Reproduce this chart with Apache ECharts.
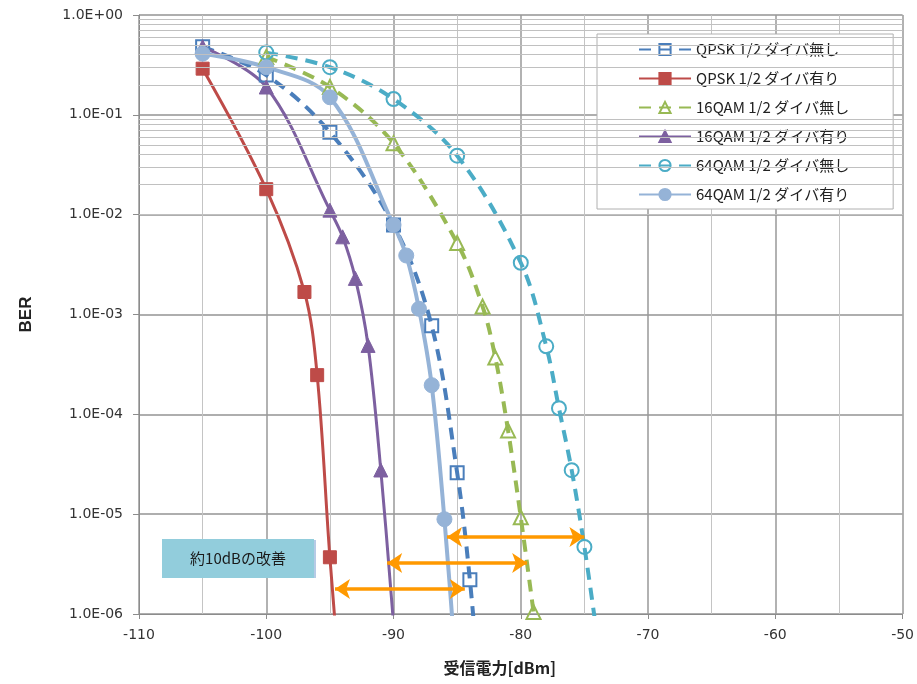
<!DOCTYPE html>
<html>
<head>
<meta charset="utf-8">
<script src="https://cdn.jsdelivr.net/npm/echarts@6/dist/echarts.min.js"></script>
<style>
  html, body { margin: 0; padding: 0; background: #fff; }
  #main { width: 917px; height: 684px; }
</style>
</head>
<body>
<div id="main"></div>
<script>
// values (x = 受信電力 dBm, y = BER)
var qpskNoX = [-105, -100, -95, -90, -87, -85, -84, -83];
var qpskNoY = [0.48, 0.25, 0.067, 0.0079, 7.7e-4, 2.6e-5, 2.2e-6, 7e-8];
var qpskDivX = [-105, -100, -97, -96, -95, -94];
var qpskDivY = [0.29, 0.018, 0.00168, 2.47e-4, 3.7e-6, 1e-7];
var qam16NoX = [-100, -95, -90, -85, -83, -82, -81, -80, -79];
var qam16NoY = [0.38, 0.19, 0.052, 0.0052, 0.0012, 3.7e-4, 6.9e-5, 9.3e-6, 1.05e-6];
var qam16DivX = [-105, -100, -95, -94, -93, -92, -91, -90];
var qam16DivY = [0.48, 0.19, 0.0111, 0.006, 0.0023, 4.9e-4, 2.77e-5, 8e-7];
var qam64NoX = [-100, -95, -90, -85, -80, -78, -77, -76, -75, -74];
var qam64NoY = [0.42, 0.30, 0.144, 0.039, 0.0033, 4.8e-4, 1.15e-4, 2.76e-5, 4.7e-6, 6e-7];
var qam64DivX = [-105, -100, -95, -90, -89, -88, -87, -86, -85];
var qam64DivY = [0.41, 0.30, 0.15, 0.0079, 0.0039, 0.00114, 1.96e-4, 8.9e-6, 2e-7];

var seriesNames = [
  'QPSK 1/2 ダイバ無し', 'QPSK 1/2 ダイバ有り',
  '16QAM 1/2 ダイバ無し', '16QAM 1/2 ダイバ有り',
  '64QAM 1/2 ダイバ無し', '64QAM 1/2 ダイバ有り'
];

// 約10dB improvement arrows
var arrowY = [5.9e-6, 3.24e-6, 1.78e-6];
var arrowFrom = [-85.8, -90.5, -94.6];
var arrowTo = [-75.0, -79.5, -84.4];

function pairs(xs, ys) {
  return xs.map(function (x, i) { return [x, ys[i]]; });
}

// minor log gridlines 2..9 x 10^k
var minorGrid = [];
for (var e = -6; e < 0; e++) {
  for (var m = 2; m <= 9; m++) minorGrid.push(m * Math.pow(10, e));
}

function fmtExp(v) {
  var p = Math.round(Math.log10(v));
  var s = p < 0 ? '-' : '+';
  var a = Math.abs(p);
  return '1.0E' + s + (a < 10 ? '0' : '') + a;
}

function dashed(name, data, color, symbol, size) {
  return {
    name: name, type: 'line', data: data, smooth: 0.35,
    symbol: symbol, symbolSize: size, z: 3,
    lineStyle: { color: color, width: 4, type: [12, 8] },
    itemStyle: { color: 'rgba(255,255,255,0)', borderColor: color, borderWidth: 2 }
  };
}
function solid(name, data, color, symbol, size, w) {
  return {
    name: name, type: 'line', data: data, smooth: 0.35,
    symbol: symbol, symbolSize: size, z: 3,
    lineStyle: { color: color, width: w, type: 'solid' },
    itemStyle: { color: color, borderColor: color, borderWidth: 1 }
  };
}

var chart = echarts.init(document.getElementById('main'));
chart.setOption({
  animation: false,
  backgroundColor: '#fff',
  grid: { left: 139, right: 14, top: 15, bottom: 70 },
  legend: {
    data: seriesNames,
    orient: 'vertical',
    left: 597, top: 34,
    padding: [8, 44, 7, 41],
    itemWidth: 52, itemHeight: 14, itemGap: 14,
    backgroundColor: '#fff',
    borderColor: '#b0b0b0', borderWidth: 1,
    textStyle: { fontFamily: 'Noto Sans CJK JP', fontSize: 15, color: '#222' }
  },
  xAxis: {
    type: 'value', min: -110, max: -50, interval: 10,
    name: '受信電力[dBm]', nameLocation: 'middle', nameGap: 46,
    nameTextStyle: { fontFamily: 'Noto Sans CJK JP', fontSize: 16, fontWeight: 'bold', color: '#222', padding: [0, 42, 0, 0] },
    axisLine: { onZero: false, lineStyle: { color: '#8c8c8c' } },
    axisTick: { show: true, length: 5, lineStyle: { color: '#8c8c8c' } },
    axisLabel: { margin: 14, fontFamily: 'DejaVu Sans', fontSize: 14, color: '#333' },
    splitLine: { show: true, lineStyle: { color: '#999', width: 1.5 } },
    minorTick: { show: false, splitNumber: 2 },
    minorSplitLine: { show: true, lineStyle: { color: '#c4c4c4', width: 1 } }
  },
  yAxis: {
    type: 'log', logBase: 10, min: 1e-6, max: 1,
    name: 'BER', nameLocation: 'middle', nameGap: 104,
    nameTextStyle: { fontFamily: 'Liberation Sans', fontSize: 17, fontWeight: 'bold', color: '#222' },
    axisLine: { show: true, lineStyle: { color: '#8c8c8c' } },
    axisTick: { show: true, length: 6, lineStyle: { color: '#8c8c8c' } },
    axisLabel: { margin: 16, fontFamily: 'DejaVu Sans', fontSize: 14, color: '#333', formatter: fmtExp },
    splitLine: { show: true, lineStyle: { color: '#939393', width: 1.5 } }
  },
  graphic: [
    { type: 'rect', z: 20, shape: { x: 313, y: 540, width: 3, height: 38 }, style: { fill: '#b6cbe6' } },
    { type: 'rect', z: 21, shape: { x: 162, y: 539, width: 152, height: 39 }, style: { fill: '#92CDDC' } },
    {
      type: 'text', z: 22, x: 238, y: 558,
      style: {
        text: '約10dBの改善', fill: '#1a1a1a', align: 'center', verticalAlign: 'middle',
        font: '15px "Noto Sans CJK JP"'
      }
    }
  ],
  series: [
    {
      name: 'minorGrid', type: 'line', data: [], z: 1, silent: true,
      markLine: {
        silent: true, symbol: 'none', label: { show: false },
        lineStyle: { color: '#c0c0c0', width: 1, type: 'solid' },
        data: minorGrid.map(function (v) { return { yAxis: v }; })
      }
    },
    dashed(seriesNames[0], pairs(qpskNoX, qpskNoY), '#4A7EBB', 'rect', 13),
    solid(seriesNames[1], pairs(qpskDivX, qpskDivY), '#BE4B48', 'rect', 13, 3),
    dashed(seriesNames[2], pairs(qam16NoX, qam16NoY), '#98B954', 'triangle', 14),
    solid(seriesNames[3], pairs(qam16DivX, qam16DivY), '#7D60A0', 'triangle', 14, 3),
    dashed(seriesNames[4], pairs(qam64NoX, qam64NoY), '#4BACC6', 'circle', 14),
    solid(seriesNames[5], pairs(qam64DivX, qam64DivY), '#95B3D7', 'circle', 15, 4),
    {
      name: 'arrows', type: 'line', data: [], z: 5, silent: true,
      markLine: {
        silent: true, symbol: ['arrow', 'arrow'], symbolSize: [15, 15],
        label: { show: false },
        lineStyle: { color: '#FF9900', width: 3.5, type: 'solid' },
        data: arrowY.map(function (y, i) {
          return [{ coord: [arrowFrom[i], y] }, { coord: [arrowTo[i], y] }];
        })
      }
    }
  ]
});
</script>
</body>
</html>
